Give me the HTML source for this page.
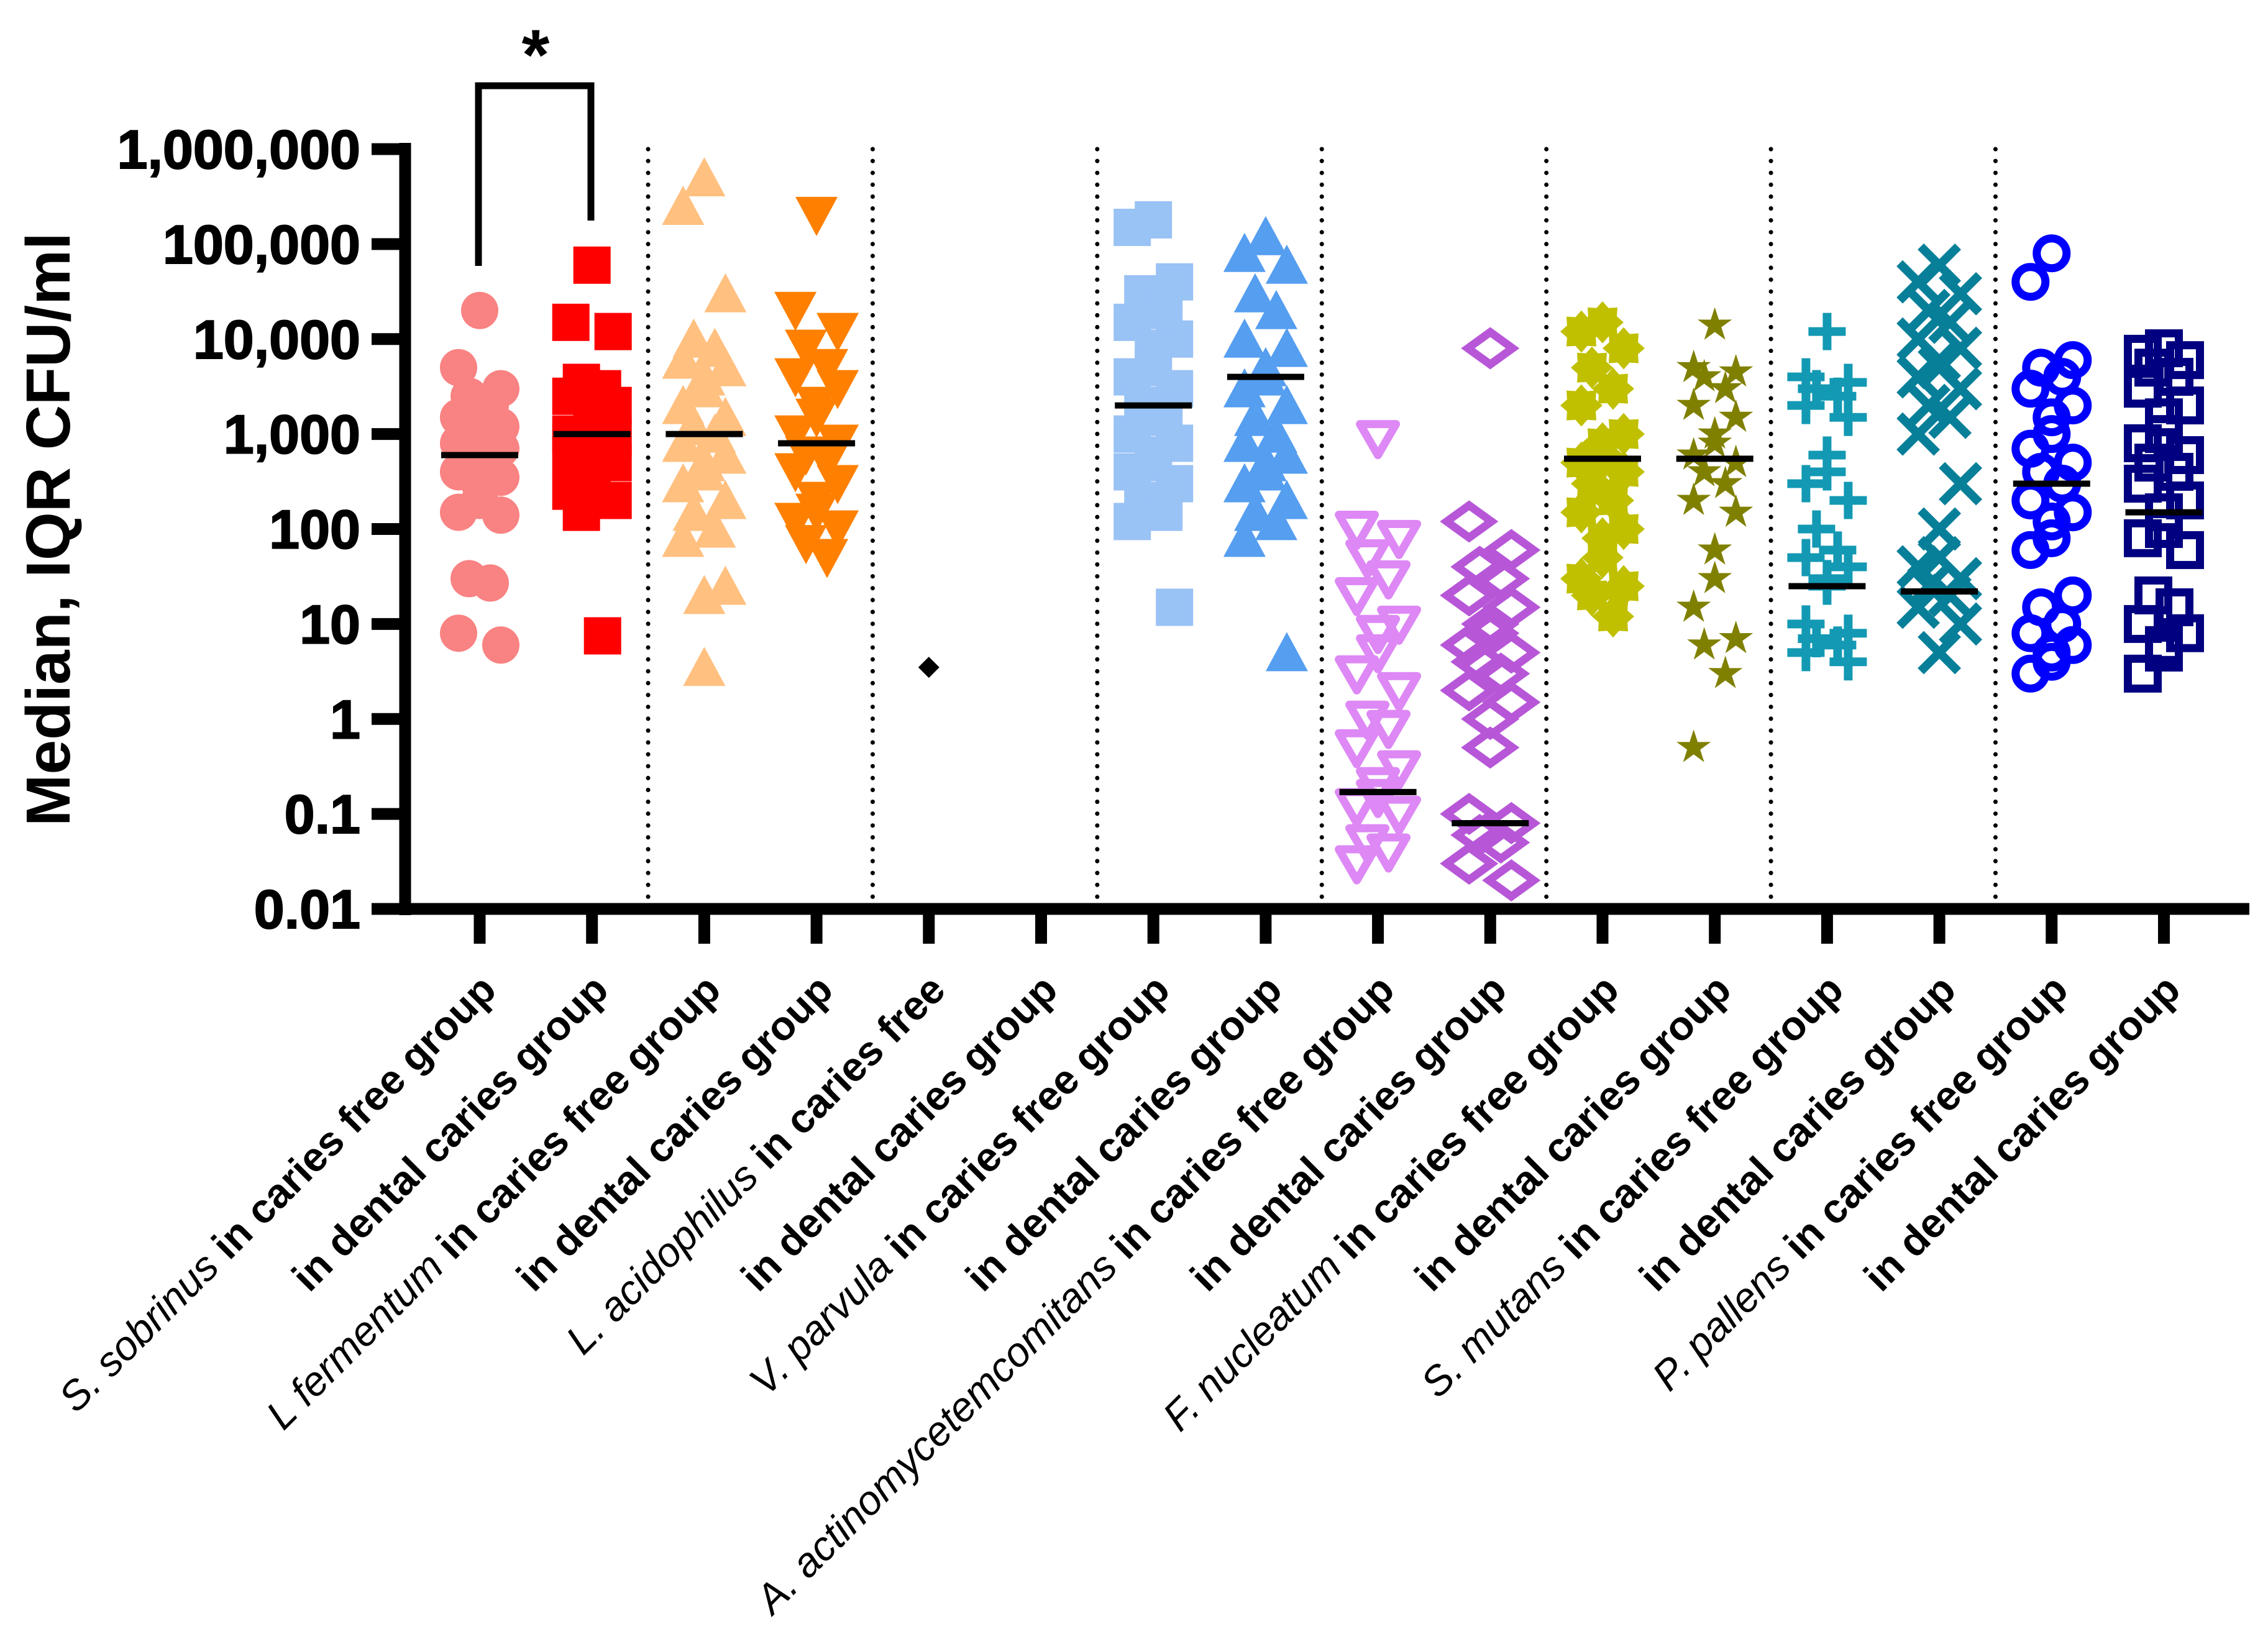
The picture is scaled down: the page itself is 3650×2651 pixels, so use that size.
<!DOCTYPE html>
<html><head><meta charset="utf-8"><style>
html,body{margin:0;padding:0;background:#fff}
svg{display:block}
text{font-family:"Liberation Sans",Arial,sans-serif}
</style></head><body>
<svg id="chart" width="3650" height="2651" viewBox="0 0 3650 2651" xmlns="http://www.w3.org/2000/svg">
<g id="grid"></g><g id="axes"></g><g id="marks"></g><g id="labels"></g>
<path d="M770 428 V138 H951 V355" fill="none" stroke="#000" stroke-width="11"/>
<text x="862" y="128" font-size="115" font-weight="bold" text-anchor="middle">*</text>
<text transform="translate(112,852) rotate(-90)" font-size="100" font-weight="bold" text-anchor="middle">Median, IQR CFU/ml</text>
</svg>
<script>
const categories = ["S. sobrinus caries free","S. sobrinus dental caries","L fermentum caries free","L fermentum dental caries","L. acidophilus caries free","L. acidophilus dental caries","V. parvula caries free","V. parvula dental caries","A. actinomycetemcomitans caries free","A. actinomycetemcomitans dental caries","F. nucleatum caries free","F. nucleatum dental caries","S. mutans caries free","S. mutans dental caries","P. pallens caries free","P. pallens dental caries"];
const labelItalic = ["S. sobrinus","","L fermentum","","L. acidophilus","","V. parvula","","A. actinomycetemcomitans","","F. nucleatum","","S. mutans","","P. pallens",""];
const labelBold = [" in caries free group","in dental caries group"," in caries free group","in dental caries group"," in caries free","in dental caries group"," in caries free group","in dental caries group"," in caries free group","in dental caries group"," in caries free group","in dental caries group"," in caries free group","in dental caries group"," in caries free group","in dental caries group"];
const yTicks = [1e6,1e5,1e4,1e3,100,10,1,0.1,0.01];
const yTickLabels = ["1,000,000","100,000","10,000","1,000","100","10","1","0.1","0.01"];
const medians = [600,1000,1000,800,null,null,2000,4000,0.17,0.08,550,550,25,22,300,150];
const s0 = [20000,5000,3000,2500,2000,1500,1200,1000,900,800,700,600,500,400,350,300,200,150,140,30,27,8,6];
const s1 = [60000,15000,12000,3500,3000,2500,2000,1500,1200,1000,900,800,700,600,500,400,300,250,200,150,7.5];
const s2 = [500000,250000,30000,10000,8000,6000,5000,4000,3000,2000,1500,1200,1000,800,600,500,400,300,200,150,100,80,25,20,3.5];
const s3 = [200000,20000,12000,8000,5000,4000,3000,2000,1500,1000,800,600,500,400,300,200,150,120,100,70,50];
const s4 = [3.5];
const s5 = [];
const s6 = [180000,150000,40000,30000,20000,15000,10000,8000,5000,4000,3000,2000,1500,1000,800,600,500,400,300,200,150,120,15];
const s7 = [120000,80000,60000,30000,20000,10000,8000,5000,4000,3000,2000,1500,1000,800,600,500,400,300,200,150,120,80,5];
const s8 = [900,100,80,50,30,20,10,8,5,3,2,1,0.8,0.5,0.3,0.2,0.15,0.12,0.1,0.05,0.04,0.03];
const s9 = [8000,120,60,40,30,20,15,10,8,6,5,4,3,2,1.5,1,0.5,0.1,0.08,0.06,0.05,0.03,0.02];
const s10 = [15000,12000,8000,5000,3000,2000,1000,800,600,500,400,300,200,150,100,80,50,30,25,20,12];
const s11 = [14000,5000,4500,4000,3000,2000,1500,1000,800,600,500,400,300,200,150,60,30,15,7,6,3,0.5];
const s12 = [12000,4000,3500,3000,2500,2000,1500,600,400,300,200,100,60,50,40,30,25,10,8,7,6,5,4];
const s13 = [60000,40000,30000,20000,15000,10000,8000,6000,5000,4000,3000,2000,1500,1000,300,100,50,40,30,25,20,15,10,5];
const s14 = [80000,40000,6000,5000,4000,3000,2000,1500,1000,700,500,400,300,200,150,120,80,60,20,15,10,8,6,5,4,3];
const s15 = [8000,7000,6000,5000,4000,3000,2000,1500,1000,800,600,500,400,300,200,150,100,80,60,20,15,10,8,6,5,3];
const series = [s0,s1,s2,s3,s4,s5,s6,s7,s8,s9,s10,s11,s12,s13,s14,s15];

const colors = ["#F98282","#FF0000","#FFC080","#FF8000","#000000","#000000","#99C2F5","#559EF0","#DD88F5","#B757D8","#C0C000","#808000","#1399B3","#087F99","#0000FF","#000080"];
const shapes = ["circle","square","tri","tridown","diamond","none","square","tri","otridown","odiamond","burst","star","plus","x","ocircle","osquare"];
const NS = "http://www.w3.org/2000/svg";
const X0 = 772, DX = 180.7, YTOP = 240, YBOT = 1463;
const xScale = i => X0 + DX*i;
const yScale = v => YTOP + (6 - Math.log10(v)) * (YBOT-YTOP)/8;
function mk(tag, attrs, parent){const e=document.createElementNS(NS,tag);for(const k in attrs)e.setAttribute(k,attrs[k]);parent.appendChild(e);return e;}
const grid=document.getElementById('grid'), axes=document.getElementById('axes'), marks=document.getElementById('marks'), labels=document.getElementById('labels');

for(let k=0;k<7;k++){
  const x = xScale(2*k+1.5);
  const l = mk('line',{x1:x,y1:YTOP,x2:x,y2:YBOT-10,stroke:'#000','stroke-width':7,'stroke-dasharray':'0.1 19','stroke-linecap':'round'},grid);
  
  
}
const ya = mk('line',{x1:652,y1:YTOP-10,x2:652,y2:YBOT+10,stroke:'#000','stroke-width':19},axes);


const xa = mk('line',{x1:643,y1:YBOT,x2:3620,y2:YBOT,stroke:'#000','stroke-width':19},axes);


yTicks.forEach((v,i)=>{
  const y=yScale(v);
  const t=mk('line',{x1:598,y1:y,x2:652,y2:y,stroke:'#000','stroke-width':19},axes);
  
  
  const tx=mk('text',{x:580,y:y+31,'font-size':88,'font-weight':'bold','text-anchor':'end','stroke':'#000','stroke-width':2},labels);
  tx.textContent=yTickLabels[i];
  
  
});
categories.forEach((c,i)=>{
  const x=xScale(i);
  const t=mk('line',{x1:x,y1:YBOT,x2:x,y2:1519,stroke:'#000','stroke-width':19},axes);
  
  
  const tx=mk('text',{transform:`translate(${x+30},1597) rotate(-45)`,'font-size':66,'text-anchor':'end'},labels);
  
  
  if(labelItalic[i]){const a=mk('tspan',{'font-style':'italic'},tx);a.textContent=labelItalic[i];}
  const b=mk('tspan',{'font-weight':'bold'},tx);b.textContent=labelBold[i];
});

const R=30;
function drawMarker(shape,cx,cy,col){
  const g=mk('g',{transform:`translate(${cx},${cy})`},marks);
  const sw=13;
  switch(shape){
    case 'circle': mk('circle',{r:R,fill:col},g);break;
    case 'ocircle': mk('circle',{r:R-6,fill:'none',stroke:col,'stroke-width':sw},g);break;
    case 'square': mk('rect',{x:-R,y:-R,width:2*R,height:2*R,fill:col},g);break;
    case 'osquare': mk('rect',{x:-R+6,y:-R+6,width:2*R-12,height:2*R-12,fill:'none',stroke:col,'stroke-width':sw},g);break;
    case 'tri': mk('polygon',{points:`0,${-R-3} ${R+4},${R} ${-R-4},${R}`,fill:col},g);break;
    case 'tridown': mk('polygon',{points:`0,${R+3} ${R+4},${-R} ${-R-4},${-R}`,fill:col},g);break;
    case 'otridown': mk('polygon',{points:`0,${R-3} ${R-1},${-R+7} ${-R+1},${-R+7}`,fill:'none',stroke:col,'stroke-width':sw,'stroke-linejoin':'round'},g);break;
    case 'diamond': mk('polygon',{points:`0,-17 17,0 0,17 -17,0`,fill:col},g);break;
    case 'odiamond': mk('polygon',{points:`0,${-R+4} ${R+6},0 0,${R-4} ${-R-6},0`,fill:'none',stroke:col,'stroke-width':sw},g);break;
    case 'burst': {let p=[];for(let k=0;k<16;k++){const r=k%2?R-5:R+4;const a=k*Math.PI/8;p.push((r*Math.cos(a)).toFixed(1)+','+(r*Math.sin(a)).toFixed(1));}mk('polygon',{points:p.join(' '),fill:col},g);break;}
    case 'star': {let p=[];for(let k=0;k<10;k++){const r=k%2?11:R-1;const a=-Math.PI/2+k*Math.PI/5;p.push((r*Math.cos(a)).toFixed(1)+','+(r*Math.sin(a)).toFixed(1));}mk('polygon',{points:p.join(' '),fill:col},g);break;}
    case 'plus': mk('path',{d:`M0 ${-R} V${R} M${-R} 0 H${R}`,stroke:col,'stroke-width':14},g);break;
    case 'x': mk('path',{d:`M${-R} ${-R} L${R} ${R} M${R} ${-R} L${-R} ${R}`,stroke:col,'stroke-width':14},g);break;
  }
  return g;
}
const jit=[0,-1,1,-0.5,0.5,-1,1,0];
series.forEach((vals,i)=>{
  vals.forEach((v,j)=>{
    const m=drawMarker(shapes[i],xScale(i)+jit[j%jit.length]*34,yScale(v),colors[i]);
    
    
  });
  if(medians[i]!==null){
    const y=yScale(medians[i]);
    const l=mk('line',{x1:xScale(i)-62,y1:y,x2:xScale(i)+62,y2:y,stroke:'#000','stroke-width':10},marks);
    
    
  }
});
</script>
</body></html>
